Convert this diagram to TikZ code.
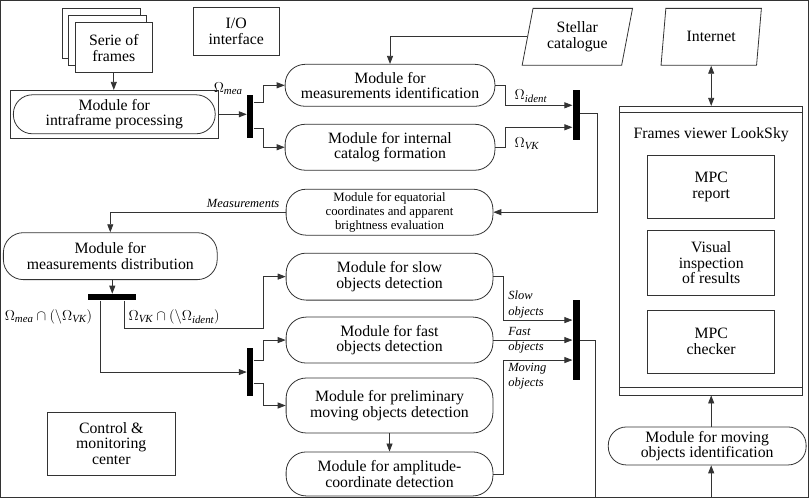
\documentclass[tikz,border=0pt]{standalone}
\usepackage{fontspec}
\setmainfont{Liberation Serif}
\usetikzlibrary{arrows.meta,shapes.geometric}
\begin{document}
\begin{tikzpicture}[x=1pt,y=-1pt,
  every path/.style={line width=0.8pt, draw=black!80},
  mod/.style={draw=black!80, line width=0.8pt, rounded corners=20pt, align=center, inner sep=0pt,
    font=\fontsize{15.8}{15.5}\selectfont},
  box/.style={draw=black!80, line width=0.8pt, align=center, inner sep=0pt,
    font=\fontsize{15.8}{15.5}\selectfont},
  para/.style={draw=black!80, line width=0.8pt, trapezium, trapezium left angle=76,
    trapezium right angle=104, trapezium stretches=true, align=center, inner sep=0pt,
    font=\fontsize{15.8}{15.5}\selectfont},
  bar/.style={fill=black, draw=none, inner sep=0pt},
  arr/.style={-{Triangle[length=8pt,width=6pt]}},
  arrb/.style={{Triangle[length=8pt,width=6pt]}-{Triangle[length=8pt,width=6pt]}},
  lbl/.style={font=\fontsize{12.5}{15.5}\selectfont\itshape, align=left, inner sep=0pt},
  om/.style={font=\fontsize{15.5}{15}\selectfont, inner sep=0pt},
]
\useasboundingbox[fill=white] (0,0) rectangle (809,497);

% stacked frames
\node[box, fill=white, minimum width=78pt, minimum height=50pt] (fr3) at (101,33) {};
\node[box, fill=white, minimum width=78pt, minimum height=50pt] (fr2) at (107.5,40) {};
\node[box, fill=white, minimum width=77pt, minimum height=50pt] (fr1) at (113.5,47.5) {Serie of\\frames};

\node[box, minimum width=86pt, minimum height=48pt] (io) at (236,31) {I/O\\interface};

% intraframe
\node[box, minimum width=208pt, minimum height=48pt] (intra) at (114,114) {};
\node[mod, rounded corners=19pt, minimum width=202pt, minimum height=39pt] (intrain) at (114,114) {Module for\\intraframe processing};

\node[bar, minimum width=6pt, minimum height=43pt] (bar0) at (250,116.5) {};
\node[om] (omea) at (228,88) {$\Omega_{\mathit{mea}}$};

\node[mod, minimum width=210pt, minimum height=42pt] (mident) at (390,85) {Module for\\measurements identification};
\node[mod, minimum width=210pt, minimum height=46pt] (mcat) at (390,147) {Module for internal\\catalog formation};

\node[para, minimum width=111pt, minimum height=57pt] (stellar) at (577.5,36.5) {Stellar\\catalogue};
\node[para, minimum width=101pt, minimum height=57pt] (internet) at (711.5,36.5) {Internet};

\node[om] (oident) at (531,96) {$\Omega_{\mathit{ident}}$};
\node[om] (ovk) at (527,143) {$\Omega_{\mathit{VK}}$};

\node[bar, minimum width=7pt, minimum height=50pt] (bar1) at (576.5,115) {};

\node[mod, minimum width=207pt, minimum height=46pt, font=\fontsize{12.8}{14}\selectfont] (eq) at (389.5,212)
  {Module for equatorial\\coordinates and apparent\\brightness evaluation};
\node[lbl] (meas) at (243,203) {Measurements};

\node[mod, minimum width=214pt, minimum height=47pt] (mdist) at (110,256) {Module for\\measurements distribution};
\node[bar, minimum width=48pt, minimum height=6pt] (bar2) at (112,297) {};
\node[om, anchor=west] (o1) at (4,317) {$\Omega_{\mathit{mea}}\cap(\setminus\Omega_{\mathit{VK}})$};
\node[om, anchor=west] (o2) at (128,317) {$\Omega_{\mathit{VK}}\cap(\setminus\Omega_{\mathit{ident}})$};

\node[mod, minimum width=207pt, minimum height=47pt] (slow) at (389.5,276.5) {Module for slow\\objects detection};
\node[mod, minimum width=207pt, minimum height=46pt] (fast) at (389.5,340) {Module for fast\\objects detection};
\node[mod, minimum width=207pt, minimum height=55pt] (prelim) at (389.5,405.5) {Module for preliminary\\moving objects detection};
\node[mod, minimum width=207pt, minimum height=44pt] (ampl) at (389.5,474) {Module for amplitude-\\coordinate detection};

\node[bar, minimum width=6pt, minimum height=48pt] (bar3) at (250,372) {};
\node[bar, minimum width=7pt, minimum height=80pt] (bar4) at (576.5,340) {};

\node[lbl, anchor=west] (lslow) at (508,304.5) {Slow\\objects};
\node[lbl, anchor=west] (lfast) at (508,340) {\fontsize{12.5}{16.5}\selectfont Fast\\objects};
\node[lbl, anchor=west] (lmov) at (508,376) {Moving\\objects};

\node[box, minimum width=128pt, minimum height=63pt] (ctrl) at (111,443.5) {Control \&\\monitoring\\center};

% viewer
\node[box, minimum width=183pt, minimum height=289pt] (viewer) at (711.5,250.5) {};
\draw ([yshift=-7pt]viewer.north west) -- ([yshift=-7pt]viewer.north east);
\draw ([yshift=8pt]viewer.south west) -- ([yshift=8pt]viewer.south east);
\node[font=\fontsize{15.8}{15.5}\selectfont, inner sep=0pt] (vtitle) at (711.5,134) {Frames viewer LookSky};
\node[box, minimum width=127pt, minimum height=63pt] (mpcr) at (711.5,186.5) {MPC\\report};
\node[box, minimum width=127pt, minimum height=65pt] (vis) at (711.5,262.5) {Visual\\inspection\\of results};
\node[box, minimum width=127pt, minimum height=63pt] (mpcc) at (711.5,341.5) {MPC\\checker};

\node[mod, rounded corners=18pt, minimum width=198pt, minimum height=38pt] (movid) at (707.5,446) {Module for moving\\objects identification};

\coordinate (bot1) at (596,497);
\coordinate (bot2) at (711.5,497);

% connectors
\draw[arr] (fr1.south) -- (fr1.south |- intra.north);
\draw[arr] (intra.east) -- (intra.east -| bar0.west);
\draw[arr] ([yshift=14.5pt]bar0.east) -- ++(10,0) |- (mident.west);
\draw[arr] ([yshift=-11.5pt]bar0.east) -- ++(10,0) |- (mcat.west);
\draw[arr] (stellar.west) -| (mident.north);
\draw[arr] (mident.east) -- ++(10,0) |- ([yshift=10pt]bar1.west);
\draw[arr] (mcat.east) -- ++(10,0) |- ([yshift=-12pt]bar1.west);
\draw[arr] ([yshift=2pt]bar1.east) -- ++(17,0) |- (eq.east);
\draw[arr] (eq.west) -| (mdist.north);
\draw[arr] (mdist.south -| bar2.north) -- (bar2.north);
\draw[arr] ([xshift=-12pt]bar2.south) |- (bar3.west);
\draw[arr] ([xshift=12pt]bar2.south) -- ++(0,28) -- ++(139,0) |- (slow.west);
\draw[arr] ([yshift=12pt]bar3.east) -- ++(10,0) |- (fast.west);
\draw[arr] ([yshift=-11pt]bar3.east) -- ++(10,0) |- (prelim.west);
\draw[arr] (prelim.south) -- (ampl.north);
\draw[arr] (slow.east) -- ++(10,0) |- ([yshift=20pt]bar4.west);
\draw[arr] (fast.east) -- (fast.east -| bar4.west);
\draw[arr] (ampl.east) -- ++(10,0) |- ([yshift=-20pt]bar4.west);
\draw (bar4.east) -| (bot1);
\draw[arrb] (internet.south -| viewer.north) -- (viewer.north);
\draw[arr] (movid.north -| viewer.south) -- (viewer.south);
\draw[arr] (bot2) -- (bot2 |- movid.south);
\end{tikzpicture}
\end{document}
